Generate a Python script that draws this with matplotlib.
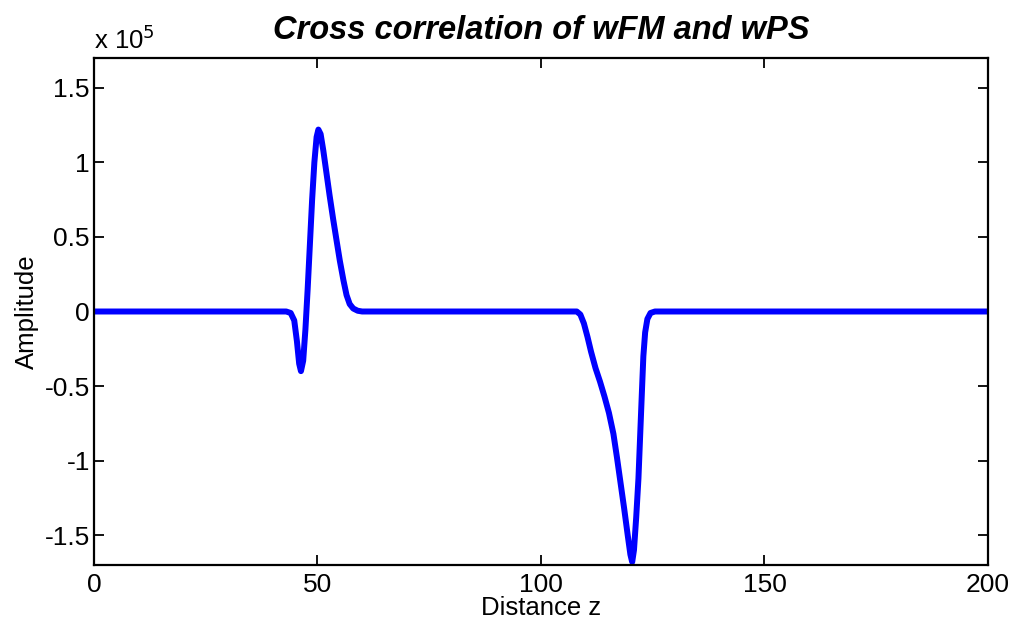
import matplotlib
matplotlib.use("Agg")
import matplotlib.pyplot as plt
import matplotlib.ticker as mticker

plt.rcParams["font.family"] = ["Liberation Sans", "DejaVu Sans"]

# distance z and cross-correlation amplitude (units of 1e5)
distance = [0, 43.0, 44.0, 44.8, 45.4, 45.9, 46.3, 46.8, 47.3, 47.8, 48.3, 48.8,
            49.3, 49.8, 50.2, 50.7, 51.3, 52.0, 52.7, 53.5, 54.3, 55.0, 55.8, 56.5,
            57.2, 58.0, 59.0, 60.0,
            108.0, 108.8, 109.6, 110.4, 111.2, 112.2, 113.2, 114.2, 115.2, 116.2,
            117.0, 117.8, 118.6, 119.4, 120.0, 120.4, 120.8, 121.3, 121.8, 122.2,
            122.6, 122.9, 123.3, 123.8, 124.5, 125.5, 200]
amplitude_e5 = [0, 0, -0.01, -0.06, -0.20, -0.35, -0.40, -0.33, -0.12, 0.15, 0.45,
                0.75, 1.00, 1.17, 1.22, 1.19, 1.08, 0.93, 0.78, 0.62, 0.47, 0.34,
                0.21, 0.11, 0.05, 0.02, 0.005, 0,
                0, -0.02, -0.08, -0.17, -0.27, -0.38, -0.47, -0.57, -0.68, -0.82,
                -0.98, -1.15, -1.32, -1.50, -1.63, -1.68, -1.60, -1.38, -1.12, -0.82,
                -0.52, -0.30, -0.14, -0.05, -0.01, 0, 0]
amplitude = [v * 1e5 for v in amplitude_e5]

x_ticks = [0, 50, 100, 150, 200]
y_ticks = [-1.5e5, -1e5, -0.5e5, 0, 0.5e5, 1e5, 1.5e5]

fig = plt.figure(figsize=(10.15, 6.25), dpi=100)
ax = fig.add_axes([0.0926, 0.096, 0.8808, 0.8112])

ax.plot(distance, amplitude, color="#0000ff", linewidth=4.3,
        solid_joinstyle="round", solid_capstyle="butt")

ax.set_xlim(0, 200)
ax.set_ylim(-1.7e5, 1.7e5)
ax.set_xticks(x_ticks)
ax.set_yticks(y_ticks)
ax.yaxis.set_major_formatter(mticker.FuncFormatter(lambda v, p: f"{v / 1e5:g}"))
ax.tick_params(direction="in", top=True, right=True, length=7, width=1.3,
               labelsize=19)
ax.tick_params(axis="y", pad=3)
ax.tick_params(axis="x", pad=6)
for s in ax.spines.values():
    s.set_linewidth(1.6)

ax.text(0.0, 1.008, r"x 10$^{5}$", transform=ax.transAxes, fontsize=18.5,
        ha="left", va="bottom")
ax.set_title("Cross correlation of wFM and wPS", fontsize=23.5, fontweight="bold",
             fontstyle="italic", pad=14)
ax.set_xlabel("Distance z", fontsize=18.5, labelpad=-1)
ax.set_ylabel("Amplitude", fontsize=18.5, labelpad=4)

fig.savefig("out.png", dpi=100)
